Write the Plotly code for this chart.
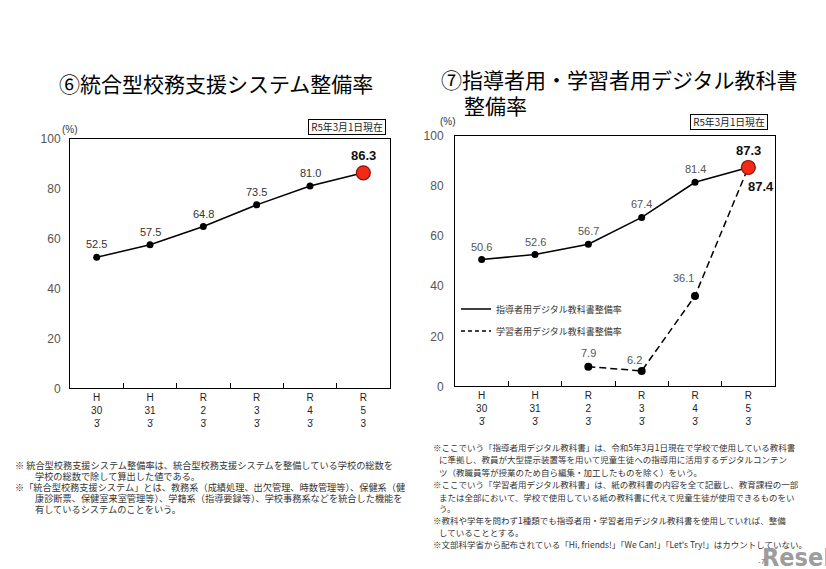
import plotly.graph_objects as go

W, H = 826, 569


def px(x):
    return x / W


def py(y):
    # small empirical correction for the vertical placement seen in the rendered picture
    return 1 - ((y - 6.3) / 0.976) / H


# ---------------- data ----------------
categories = ["H30.3", "H31.3", "R2.3", "R3.3", "R4.3", "R5.3"]
tick_labels_left = ["H<br>30<br>3\u0307", "H<br>31<br>3\u0307", "R<br>2<br>3\u0307",
                    "R<br>3<br>3\u0307", "R<br>4<br>3\u0307", "R<br>5<br>3"]
tick_labels_right = ["H<br>30<br>3\u0307", "H<br>31<br>3\u0307", "R<br>2<br>3\u0307",
                     "R<br>3<br>3\u0307", "R<br>4<br>3\u0307", "R<br>5<br>3\u0307"]
system_rate = [52.5, 57.5, 64.8, 73.5, 81.0, 86.3]
teacher_rate = [50.6, 52.6, 56.7, 67.4, 81.4, 87.3]
learner_rate = [None, None, 7.9, 6.2, 36.1, 87.4]
y_ticks = [0, 20, 40, 60, 80, 100]

teacher_name = "指導者用デジタル教科書整備率"
learner_name = "学習者用デジタル教科書整備率"

FONT = "Liberation Sans, Arial, Noto Sans CJK JP, sans-serif"
JFONT = "Noto Sans CJK JP, sans-serif"
RED = "#f42a16"
RED_EDGE = "#8a1208"

fig = go.Figure()

n = len(categories)
big_marker = dict(size=[7] * (n - 1) + [14], color=["black"] * (n - 1) + [RED],
                  opacity=1,
                  line=dict(width=[0] * (n - 1) + [1.2], color=["black"] * (n - 1) + [RED_EDGE]))

# left chart
fig.add_trace(go.Scatter(
    x=categories, y=system_rate, mode="lines+markers", xaxis="x", yaxis="y",
    line=dict(color="black", width=1.5), marker=big_marker,
    showlegend=False, hoverinfo="skip"))

# right chart: learner (dashed) first, teacher on top
fig.add_trace(go.Scatter(
    x=categories, y=learner_rate, mode="lines+markers", xaxis="x2", yaxis="y2",
    line=dict(color="black", width=1.5, dash="7px,4px"),
    marker=dict(size=8, color="black"),
    showlegend=False, hoverinfo="skip"))
fig.add_trace(go.Scatter(
    x=categories, y=teacher_rate, mode="lines+markers", xaxis="x2", yaxis="y2",
    line=dict(color="black", width=1.5), marker=big_marker,
    showlegend=False, hoverinfo="skip"))

# legend-only traces
fig.add_trace(go.Scatter(x=[None], y=[None], mode="lines", name=teacher_name,
                         xaxis="x2", yaxis="y2", legendgroup="a",
                         line=dict(color="black", width=1.5)))
fig.add_trace(go.Scatter(x=[None], y=[None], mode="lines", name=learner_name,
                         xaxis="x2", yaxis="y2", legendgroup="b",
                         line=dict(color="black", width=1.5, dash="4px,3px")))

annotations = []


def label_font(last, color):
    return dict(size=13 if last else 11, color="#111" if last else color, family=FONT,
                weight="bold" if last else "normal")


# data labels, left chart
for i, (c, v) in enumerate(zip(categories, system_rate)):
    last = i == n - 1
    annotations.append(dict(x=c, y=v, xref="x", yref="y", text=f"{v:.1f}", showarrow=False,
                            yshift=17 if last else 13, font=label_font(last, "#333")))

# data labels, right chart
for i, (c, v) in enumerate(zip(categories, teacher_rate)):
    last = i == n - 1
    annotations.append(dict(x=c, y=v, xref="x2", yref="y2", text=f"{v:.1f}", showarrow=False,
                            yshift=17 if last else 13, font=label_font(last, "#555")))

learner_shifts = {2: (0, 14), 3: (-7, 11), 4: (-12, 18), 5: (13, -19)}
for i, (c, v) in enumerate(zip(categories, learner_rate)):
    if v is None:
        continue
    last = i == n - 1
    dx, dy = learner_shifts[i]
    annotations.append(dict(x=c, y=v, xref="x2", yref="y2", text=f"{v:.1f}", showarrow=False,
                            xshift=dx, yshift=dy, font=label_font(last, "#555")))

# titles
annotations.append(dict(x=px(216), y=py(82), xref="paper", yref="paper",
                        text="⑥統合型校務支援システム整備率", showarrow=False,
                        xanchor="center", yanchor="middle",
                        font=dict(size=21, color="black", family=JFONT)))
annotations.append(dict(x=px(439), y=py(78), xref="paper", yref="paper",
                        text="⑦指導者用・学習者用デジタル教科書", showarrow=False,
                        xanchor="left", yanchor="middle",
                        font=dict(size=21, color="black", family=JFONT)))
annotations.append(dict(x=px(462), y=py(104), xref="paper", yref="paper",
                        text="整備率", showarrow=False,
                        xanchor="left", yanchor="middle",
                        font=dict(size=21, color="black", family=JFONT)))

# (%) labels
annotations.append(dict(x=px(60), y=py(129), xref="paper", yref="paper", text="(%)",
                        showarrow=False, xanchor="left", yanchor="middle",
                        font=dict(size=10, color="#333", family=FONT)))
annotations.append(dict(x=px(438), y=py(121), xref="paper", yref="paper", text="(%)",
                        showarrow=False, xanchor="left", yanchor="middle",
                        font=dict(size=10, color="#333", family=FONT)))

# date boxes
for cx, cy in [(347, 126), (729, 121)]:
    annotations.append(dict(x=px(cx), y=py(cy), xref="paper", yref="paper",
                            text="\u00a0R5年3月1日現在\u00a0", showarrow=False,
                            xanchor="center", yanchor="middle",
                            bordercolor="black", borderwidth=1, borderpad=0,
                            bgcolor="white",
                            font=dict(size=9.8, color="#222", family=JFONT)))

# notes left
left_notes = [
    (13, 465, "※ 統合型校務支援システム整備率は、統合型校務支援システムを整備している学校の総数を"),
    (33, 476, "学校の総数で除して算出した値である。"),
    (13, 487, "※「統合型校務支援システム」とは、教務系（成績処理、出欠管理、時数管理等）、保健系（健"),
    (33, 498, "康診断票、保健室来室管理等）、学籍系（指導要録等）、学校事務系などを統合した機能を"),
    (33, 509, "有しているシステムのことをいう。"),
]
for x0, y0, t in left_notes:
    annotations.append(dict(x=px(x0), y=py(y0), xref="paper", yref="paper", text=t,
                            showarrow=False, xanchor="left", yanchor="middle",
                            font=dict(size=9.2, color="#333", family=JFONT)))

right_notes = [
    (431, 447, "※ここでいう「指導者用デジタル教科書」は、令和5年3月1日現在で学校で使用している教科書"),
    (437, 459, "に準拠し、教員が大型提示装置等を用いて児童生徒への指導用に活用するデジタルコンテン"),
    (437, 472, "ツ（教職員等が授業のため自ら編集・加工したものを除く）をいう。"),
    (431, 484, "※ここでいう「学習者用デジタル教科書」は、紙の教科書の内容を全て記載し、教育課程の一部"),
    (437, 497, "または全部において、学校で使用している紙の教科書に代えて児童生徒が使用できるものをい"),
    (437, 508, "う。"),
    (431, 520, "※教科や学年を問わず1種類でも指導者用・学習者用デジタル教科書を使用していれば、整備"),
    (437, 532, "していることとする。"),
    (431, 544, "※文部科学省から配布されている「Hi, friends!」「We Can!」「Let's Try!」はカウントしていない。"),
]
for x0, y0, t in right_notes:
    annotations.append(dict(x=px(x0), y=py(y0), xref="paper", yref="paper", text=t,
                            showarrow=False, xanchor="left", yanchor="middle",
                            font=dict(size=8.5, color="#333", family=JFONT)))

# page number and watermark
annotations.append(dict(x=px(763), y=py(561), xref="paper", yref="paper", text="-7-",
                        showarrow=False, xanchor="center", yanchor="middle",
                        font=dict(size=8, color="#666", family=FONT)))
annotations.append(dict(x=px(760), y=py(557), xref="paper", yref="paper", text="ReseEd",
                        showarrow=False, xanchor="left", yanchor="middle",
                        font=dict(size=25, color="rgba(130,130,130,0.8)",
                                  family="Liberation Sans Narrow, DejaVu Sans Condensed, Liberation Sans",
                                  weight="bold")))

axis_common = dict(showline=True, linecolor="black", linewidth=1, mirror=True,
                   showgrid=False, zeroline=False)

fig.update_layout(
    width=W, height=H,
    margin=dict(l=0, r=0, t=0, b=0),
    paper_bgcolor="white", plot_bgcolor="white",
    font=dict(family=FONT, color="#333"),
    xaxis=dict(domain=[px(70), px(390)], anchor="y", type="category",
               categoryorder="array", categoryarray=categories,
               range=[-0.5, n - 0.5], ticks="inside", tickson="boundaries",
               ticklen=5, tickcolor="black", tickvals=categories,
               ticktext=tick_labels_left, tickfont=dict(size=10, color="#222"),
               **axis_common),
    yaxis=dict(domain=[py(388), py(138)], anchor="x", range=[0, 100],
               tickvals=y_ticks, ticks="", ticklabelstandoff=6,
               tickfont=dict(size=12, color="#555"), **axis_common),
    xaxis2=dict(domain=[px(455), px(775)], anchor="y2", type="category",
                categoryorder="array", categoryarray=categories,
                range=[-0.5, n - 0.5], ticks="inside", tickson="boundaries",
                ticklen=5, tickcolor="black", tickvals=categories,
                ticktext=tick_labels_right, tickfont=dict(size=10, color="#222"),
                **axis_common),
    yaxis2=dict(domain=[py(386), py(135)], anchor="x2", range=[0, 100],
                tickvals=y_ticks, ticks="", ticklabelstandoff=8,
                tickfont=dict(size=12, color="#555"), **axis_common),
    legend=dict(x=px(456), y=py(294), xanchor="left", yanchor="top",
                bgcolor="rgba(0,0,0,0)", font=dict(size=9, color="#333", family=JFONT),
                tracegroupgap=3, itemwidth=30),
    annotations=annotations,
)

fig.write_html(
    "out.html",
    config={"displayModeBar": False},
    post_script=(
        "document.body.style.margin='0';"
        "document.body.style.overflow='hidden';"
        "var d=document.getElementById('{plot_id}');"
        "d.style.position='fixed';d.style.top='0px';d.style.left='0px';"
    ),
)
